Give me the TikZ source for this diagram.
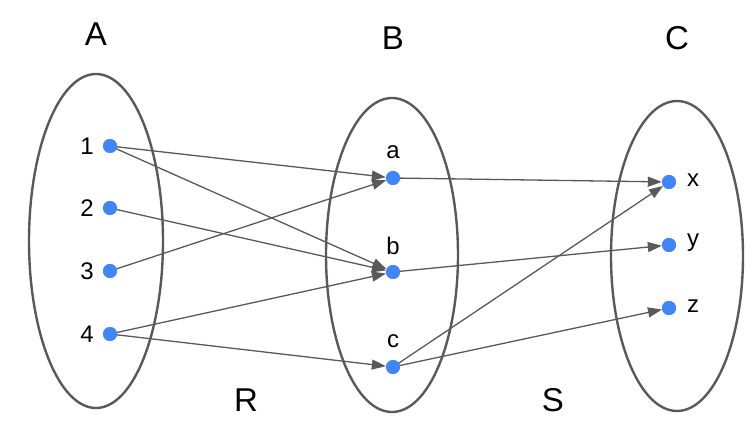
\documentclass[tikz,border=0pt]{standalone}
\usepackage{fontspec}
\setmainfont{Liberation Sans}
\usetikzlibrary{arrows.meta}
\definecolor{dotblue}{HTML}{4285F4}
\definecolor{linegray}{HTML}{595959}
\begin{document}
\begin{tikzpicture}[x=1pt,y=-1pt,
  setell/.style={draw=linegray,line width=2.4pt,ellipse},
  pt/.style={circle,fill=dotblue,minimum size=14pt,inner sep=0pt},
  lbl/.style={font=\fontsize{24}{28}\selectfont,inner sep=0pt},
  big/.style={font=\fontsize{33}{40}\selectfont,inner sep=0pt},
  arr/.style={draw=linegray,line width=1.3pt,-{Triangle[length=14pt,width=10pt]}}]
\useasboundingbox (0,0) rectangle (756,433);
\draw[draw=linegray,line width=2.4pt] (96,241) ellipse [x radius=67, y radius=167];
\draw[draw=linegray,line width=2.4pt] (392,255) ellipse [x radius=66, y radius=157];
\draw[draw=linegray,line width=2.4pt] (677,256) ellipse [x radius=66, y radius=155];
\node[big] (lA) at (96,34) {A};
\node[big] (lB) at (393,38) {B};
\node[big] (lC) at (677,38) {C};
\node[big] (lR) at (246,400) {R};
\node[big] (lS) at (553,400) {S};
\node[pt] (n1) at (110,146) {};
\node[pt] (n2) at (110,208) {};
\node[pt] (n3) at (110,271) {};
\node[pt] (n4) at (110,334) {};
\node[lbl] (t1) at (87,146) {1};
\node[lbl] (t2) at (87,208) {2};
\node[lbl] (t3) at (87,271) {3};
\node[lbl] (t4) at (87,334) {4};
\node[pt] (na) at (393,178) {};
\node[pt] (nb) at (393,272) {};
\node[pt] (nc) at (393,367) {};
\node[lbl] (ta) at (393,152) {a};
\node[lbl] (tb) at (393,246) {b};
\node[lbl] (tc) at (393,341) {c};
\node[pt] (nx) at (669,182) {};
\node[pt] (ny) at (669,245) {};
\node[pt] (nz) at (669,308) {};
\node[lbl] (tx) at (693,180) {x};
\node[lbl] (ty) at (693,243) {y};
\node[lbl] (tz) at (693,306) {z};
\draw[arr] (n1.center) -- (na);
\draw[arr] (n1.center) -- (nb);
\draw[arr] (n2.center) -- (nb);
\draw[arr] (n3.center) -- (na);
\draw[arr] (n4.center) -- (nb);
\draw[arr] (n4.center) -- (nc);
\draw[arr] (na.center) -- (nx);
\draw[arr] (nb.center) -- (ny);
\draw[arr] (nc.center) -- (nx);
\draw[arr] (nc.center) -- (nz);
\foreach \n in {n1,n2,n3,n4,na,nb,nc,nx,ny,nz} \node[pt] at (\n) {};
\end{tikzpicture}
\end{document}
